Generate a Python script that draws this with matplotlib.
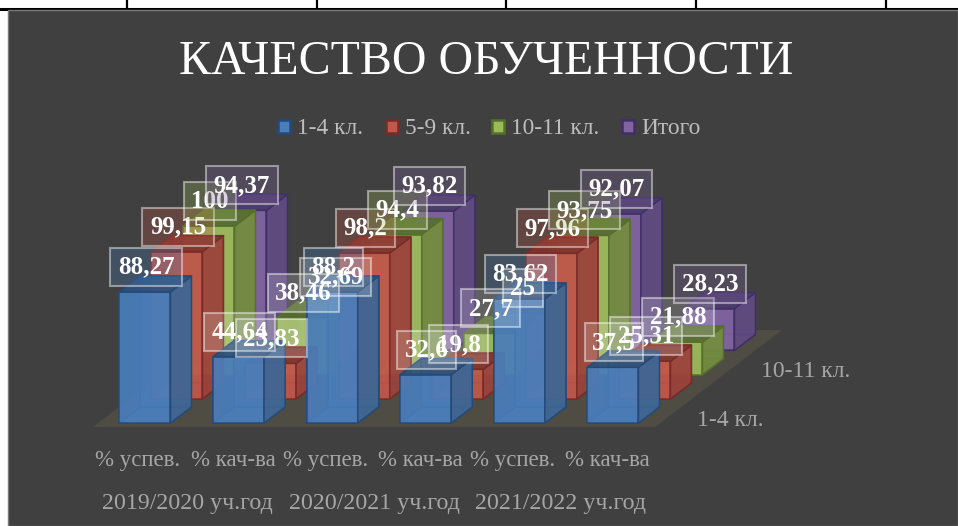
import matplotlib
matplotlib.use('Agg')
import matplotlib.pyplot as plt
from matplotlib.patches import Polygon, Rectangle

plt.rcParams['font.family'] = ['Liberation Serif', 'DejaVu Serif']

title = 'КАЧЕСТВО ОБУЧЕННОСТИ'
categories = ['% успев.', '% кач-ва', '% успев.', '% кач-ва', '% успев.', '% кач-ва']
years = ['2019/2020 уч.год', '2020/2021 уч.год', '2021/2022 уч.год']
series_names = ['1-4 кл.', '5-9 кл.', '10-11 кл.', 'Итого']
depth_labels = ['1-4 кл.', '10-11 кл.']

klass_1_4 = [88.27, 44.64, 88.2, 32.6, 83.62, 37.5]
klass_5_9 = [99.15, 23.83, 98.2, 19.8, 97.96, 25.31]
klass_10_11 = [100, 38.46, 94.4, 27.7, 93.75, 21.88]
itogo = [94.37, 32.69, 93.82, 25, 92.07, 28.23]
all_series = [klass_1_4, klass_5_9, klass_10_11, itogo]

# front, side, top, edge for each series
colors = [('#4a7ebb', '#3f6592', '#2f5078', '#234a78'),
          ('#c0574a', '#98433a', '#7d322c', '#7a2a26'),
          ('#9bbb59', '#71883f', '#566b30', '#55702a'),
          ('#8064a2', '#5f4a80', '#4a3a68', '#3f2f66')]

# oblique projection, all in pixels of the figure
PX_PER_UNIT = 1.484
X0, STEP, BAR_W = 119.5, 93.6, 51
BASE_Y = 423
SERIES_DX, SERIES_DY = 32, 24.2
DEPTH_DX, DEPTH_DY = 21, 16

fig = plt.figure(figsize=(9.58, 5.26), dpi=100, facecolor='white')
ax = fig.add_axes([0, 0, 1, 1])
ax.set_xlim(0, 958)
ax.set_ylim(526, 0)
ax.axis('off')

# the table this chart was cut out of
ax.plot([0, 958], [8.5, 8.5], color='black', lw=2.2, zorder=1)
for x in [127, 317.5, 506.5, 696.5, 886]:
    ax.plot([x, x], [0, 8], color='black', lw=1.6, zorder=1)
ax.add_patch(Rectangle((8, 10), 950, 516, fc='#404040', ec='#7a7a7a', lw=1, zorder=2))

# floor
ax.add_patch(Polygon([(93, 427), (655, 427), (782, 330), (220, 330)],
                     fc='#4f4c44', ec='none', zorder=3))


def draw_bar(x, base, value, cols, z):
    front, side, top, edge = cols
    h = value * PX_PER_UNIT
    w = BAR_W
    dx, dy = DEPTH_DX, DEPTH_DY
    y = base - h
    faces = [
        ([(x + dx, y - dy), (x + w + dx, y - dy), (x + w + dx, base - dy), (x + dx, base - dy)], front, 0.55),
        ([(x, base), (x + w, base), (x + w + dx, base - dy), (x + dx, base - dy)], front, 0.55),
        ([(x, y), (x + dx, y - dy), (x + dx, base - dy), (x, base)], side, 0.45),
        ([(x, y), (x + w, y), (x + w, base), (x, base)], front, 0.88),
        ([(x + w, y), (x + w + dx, y - dy), (x + w + dx, base - dy), (x + w, base)], side, 0.9),
        ([(x, y), (x + w, y), (x + w + dx, y - dy), (x + dx, y - dy)], top, 0.9),
    ]
    for pts, col, alpha in faces:
        ax.add_patch(Polygon(pts, fc=matplotlib.colors.to_rgba(col, alpha),
                             ec=matplotlib.colors.to_rgba(edge, 0.9), lw=1.1,
                             joinstyle='round', zorder=z))


z = 4
for s in [3, 2, 1, 0]:
    for i, v in enumerate(all_series[s]):
        draw_bar(X0 + i * STEP + s * SERIES_DX, BASE_Y - s * SERIES_DY, v, colors[s], z)
        z += 1

# data labels go on top of all the bars, in series order
for s, vals in enumerate(all_series):
    for i, v in enumerate(vals):
        x = X0 + i * STEP + s * SERIES_DX + BAR_W / 2 + 1
        y = BASE_Y - s * SERIES_DY - v * PX_PER_UNIT - 27.5
        txt = f'{v:g}'.replace('.', ',')
        tint = matplotlib.colors.to_rgba(colors[s][0], 0.28) if v > 50 or s == 3 and i == 5 else (1, 1, 1, 0.17)
        ax.text(x, y, txt, color='white', fontsize=18, fontweight='bold',
                ha='center', va='center_baseline', zorder=100 + s * 10 + i,
                bbox=dict(boxstyle='square,pad=0.3', fc=tint,
                          ec=(1, 1, 1, 0.45), lw=1.5))

# legend
legend_x = [278, 386, 492, 622]
for s, name in enumerate(series_names):
    ax.add_patch(Rectangle((legend_x[s] + 0.5, 119.5), 12, 13.5, fc=colors[s][0],
                           ec=colors[s][3], lw=1.8, zorder=200))
    ax.text(legend_x[s] + 19, 128.5, name, color='#bdbdbd', fontsize=16.8,
            ha='left', va='center', zorder=200)

ax.text(486, 62.5, title, color='white', fontsize=34.5, ha='center', va='center', zorder=200)

# axis labels
cat_x = [138, 233, 326, 420, 513, 607]
for x, c in zip(cat_x, categories):
    ax.text(x, 460.5, c, color='#a6a6a6', fontsize=16.5, ha='center', va='center', zorder=200)
for x, c in zip([187, 374, 561], years):
    ax.text(x, 504, c, color='#a6a6a6', fontsize=17.2, ha='center', va='center', zorder=200)
ax.text(730.5, 420.5, depth_labels[0], color='#a6a6a6', fontsize=17, ha='center', va='center', zorder=200)
ax.text(805.5, 371.5, depth_labels[1], color='#a6a6a6', fontsize=17, ha='center', va='center', zorder=200)

fig.savefig('out.png', dpi=100, facecolor='white')
